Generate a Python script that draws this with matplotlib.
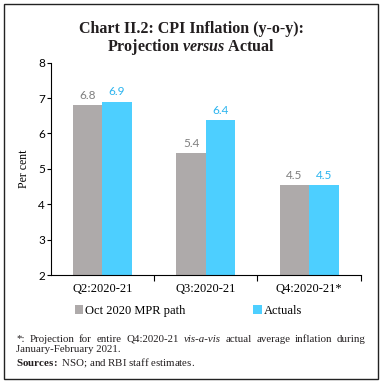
import matplotlib
matplotlib.use("Agg")
import numpy as np
import matplotlib.pyplot as plt
from matplotlib.patches import Rectangle

# data
categories = ["Q2:2020-21", "Q3:2020-21", "Q4:2020-21*"]
mpr_path = [6.8, 5.44, 4.54]
actuals = [6.9, 6.38, 4.54]
series_names = ["Oct 2020 MPR path", "Actuals"]
y_ticks = [2, 3, 4, 5, 6, 7, 8]

GRAY = "#aeaaaa"
BLUE = "#4dcfff"
SERIF = "Liberation Serif"
SANS = "Lato"

plt.rcParams["mathtext.fontset"] = "custom"
plt.rcParams["mathtext.rm"] = SERIF
plt.rcParams["mathtext.it"] = SERIF + ":italic"
plt.rcParams["mathtext.bf"] = SERIF + ":bold"
plt.rcParams["mathtext.bfit"] = SERIF + ":italic:bold"

fig = plt.figure(figsize=(3.82, 3.82), dpi=100)

# outer frame
fig.patches.append(Rectangle((4 / 382, 3 / 382), 374 / 382, 375 / 382, transform=fig.transFigure,
                             fill=False, edgecolor="#222222", linewidth=1.0))

# title
fig.text(0.5, 0.925, "Chart II.2: CPI Inflation (y-o-y):", ha="center", va="center",
         fontsize=11.5, fontweight="bold", family=SERIF, color="#231f20")
fig.text(0.5, 0.877, r"Projection $\mathbfit{versus}$ Actual", ha="center", va="center",
         fontsize=11.5, fontweight="bold", family=SERIF, color="#231f20")

ax = fig.add_axes([0.1327, 0.280, 0.812, 0.556])
x = np.arange(len(categories))
w = 0.285
b1 = ax.bar(x - w / 2, np.array(mpr_path) - 2, w, bottom=2, color=GRAY, label=series_names[0])
b2 = ax.bar(x + w / 2, np.array(actuals) - 2, w, bottom=2, color=BLUE, label=series_names[1])

for bars, vals, c in [(b1, mpr_path, "#7f7f7f"), (b2, actuals, "#2bb4ef")]:
    for r, v in zip(bars, vals):
        ax.text(r.get_x() + r.get_width() / 2, v + 0.12, f"{v:.1f}", ha="center", va="bottom",
                fontsize=8.5, family=SANS, color=c)

ax.set_xlim(-0.5, 2.5)
ax.set_ylim(2, 8)
ax.set_yticks(y_ticks)
ax.set_yticklabels([str(t) for t in y_ticks], family=SANS, fontsize=8.5)
ax.set_xticks([0.5, 1.5, 2.5])
ax.set_xticklabels([])
ax.set_xticks(x, minor=True)
ax.set_xticklabels(categories, minor=True, family=SERIF, fontsize=9)
ax.tick_params(axis="x", which="minor", length=0, pad=6)
ax.tick_params(axis="x", which="major", length=4, width=0.8, direction="out")
ax.tick_params(axis="y", length=3, width=0.8, pad=1)
for s in ["top", "right"]:
    ax.spines[s].set_visible(False)
for s in ["left", "bottom"]:
    ax.spines[s].set_linewidth(0.8)
ax.set_ylabel("Per cent", family=SERIF, fontsize=8.5, labelpad=6)

leg = fig.legend(handles=[b1, b2], loc="center", bbox_to_anchor=(0.493, 0.186), ncol=2,
                 frameon=False, prop={"family": SERIF, "size": 9}, handlelength=0.7,
                 handleheight=0.7, handletextpad=0.15, columnspacing=5.4)

# notes, first line justified across the frame
renderer = fig.canvas.get_renderer()
left, right = 16 / 382, 366 / 382
words = [("*:", "normal"), ("Projection", "normal"), ("for", "normal"), ("entire", "normal"),
         ("Q4:2020-21", "normal"), ("vis-a-vis", "italic"), ("actual", "normal"),
         ("average", "normal"), ("inflation", "normal"), ("during", "normal")]
NOTE_FS = 7.8
y1 = 1 - 339 / 382
items = []
total = 0
for wd, st in words:
    t = fig.text(0, y1, wd, fontsize=NOTE_FS, family=SERIF, style=st, va="center", color="#231f20")
    wpx = t.get_window_extent(renderer).width / fig.bbox.width
    items.append((t, wpx))
    total += wpx
gap = (right - left - total) / (len(words) - 1)
pos = left
for t, wpx in items:
    t.set_x(pos)
    pos += wpx + gap
fig.text(left, 1 - 349.5 / 382, "January-February 2021.", fontsize=NOTE_FS, family=SERIF,
         va="center", color="#231f20")
fig.text(left, 1 - 363 / 382, r"$\mathbf{Sources:}$ NSO; and RBI staff estimates.", fontsize=NOTE_FS,
         family=SERIF, va="center", color="#231f20")

fig.savefig("out.png", dpi=100)
